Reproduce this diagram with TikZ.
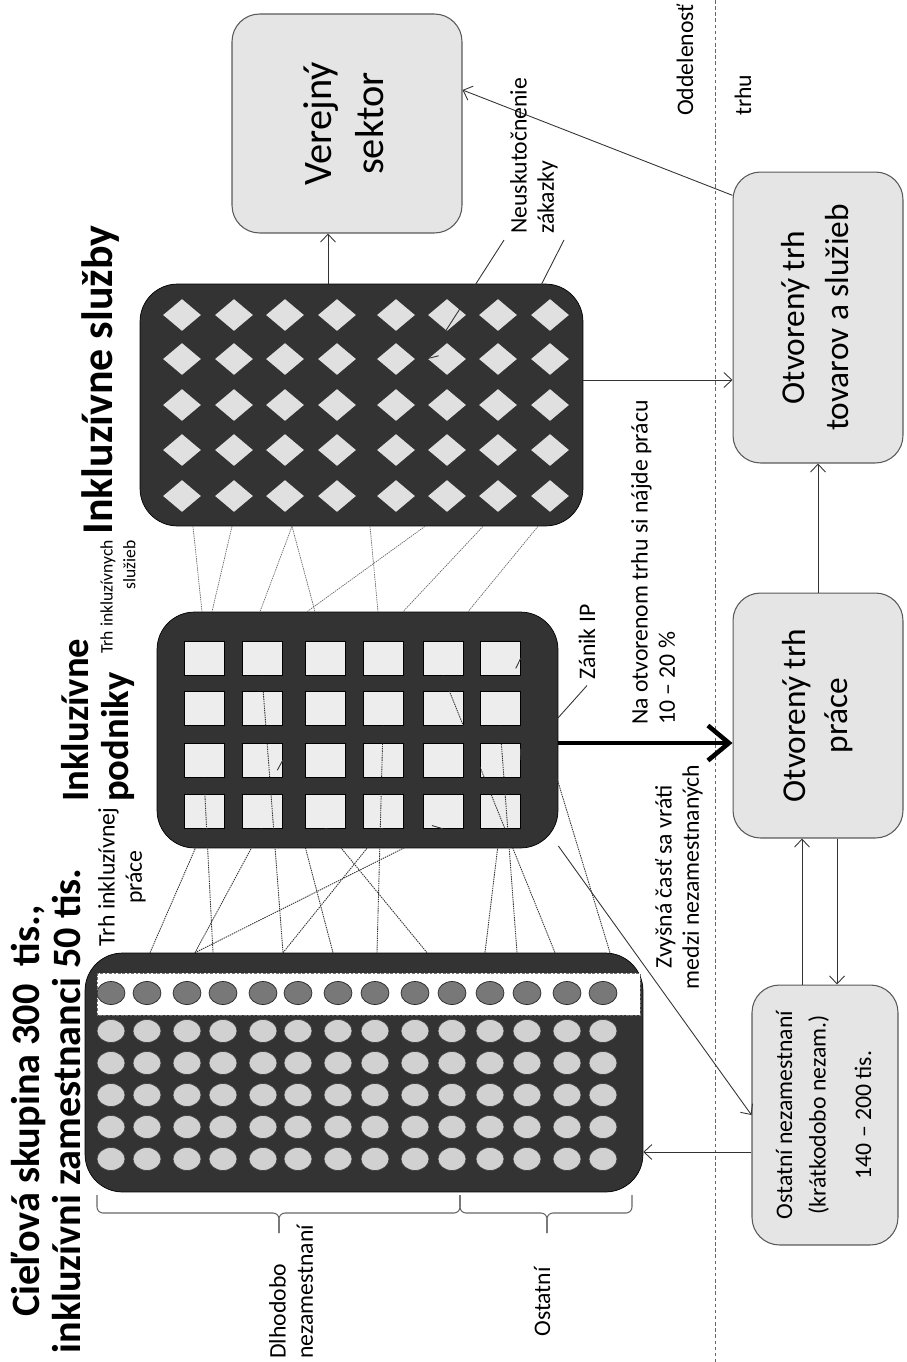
\documentclass[tikz,border=0pt]{standalone}
\usepackage{fontspec}
\setmainfont{Carlito}
\usepackage{graphicx}
\usetikzlibrary{calc,arrows.meta,shapes.geometric}
\def\vtext#1{\rotatebox{90}{\begin{tabular}{@{}c@{}}#1\end{tabular}}}

\tikzset{
  panel/.style={fill=black!80, draw=black, rounded corners=0.75cm, inner sep=0pt},
  market/.style={fill=black!10, draw=black!65, line width=0.6pt, rounded corners=0.55cm, inner sep=0pt},
  sq/.style={rectangle, fill=black!7, draw=black, minimum width=0.8cm, minimum height=0.68cm, inner sep=0pt},
  gem/.style={diamond, fill=black!12, minimum width=0.76cm, minimum height=0.64cm, inner sep=0pt},
  worker/.style={fill=black!18, draw=black!75, line width=0.4pt},
  picked/.style={fill=black!53, draw=black!85, line width=0.4pt},
  strip/.style={fill=white, draw=black!55, line width=0.5pt, dash pattern=on 1.5pt off 1pt},
  net/.style={draw=black!60, line width=0.4pt, dash pattern=on 0.8pt off 0.5pt},
  arr/.style={draw=black!80, line width=0.5pt, -{Straight Barb[length=0.16cm,width=0.3cm]}},
  bigarr/.style={line width=2.6pt, -{Straight Barb[length=0.42cm,width=0.7cm]}},
  sepline/.style={draw=black!60, line width=0.5pt, dash pattern=on 2pt off 1.5pt},
  brace/.style={draw=black!60, line width=0.6pt, rounded corners=0.12cm},
  lbl/.style={rotate=90, font=\fontsize{13.5}{15.5}\selectfont},
  head/.style={rotate=90, font=\bfseries\fontsize{22}{23}\selectfont}
}

\begin{document}
\begin{tikzpicture}[x=0.02cm, y=-0.02cm]
	%%%%% START %%%%%
	\useasboundingbox (0,0) rectangle (906,1362);
	
	\draw[sepline] (715,0) -- (715,1362);
	
	% the three dark blocks
	\node[panel, minimum width=11.16cm, minimum height=4.78cm] (ciel) at (364,1072.5) {};
	\node[panel, minimum width=8.02cm, minimum height=4.72cm] (podniky) at (357.5,730) {};
	\node[panel, minimum width=8.86cm, minimum height=4.84cm] (sluzby) at (361.5,405) {};
	
	\draw[strip] (97,973) rectangle (640,1015);
	\foreach \x in {111,147,187,223,263,298,338,375,415,452,490,527,567,603} {
		\draw[picked] (\x,993) ellipse (0.28cm and 0.23cm);
		\foreach \y in {1031,1063,1095,1127,1159}
			\draw[worker] (\x,\y) ellipse (0.28cm and 0.23cm);
	}
	
	\foreach \x [count=\c] in {204,262,325,383,443,500}
		\foreach \y [count=\r] in {658,708,760,811}
			\node[sq] (s-\c-\r) at (\x,\y) {};
	
	\foreach \x [count=\c] in {182,234,285,337,396,447,498,550}
		\foreach \y [count=\r] in {315,359,405,450,496}
			\node[gem] (d-\c-\r) at (\x,\y) {};
	
	% markets
	\node[market, minimum width=4.6cm, minimum height=4.38cm, font=\fontsize{23}{30}\selectfont] (verejny) at (347,123.5) {\vtext{Verejný\\sektor}};
	\node[market, minimum width=3.4cm, minimum height=5.82cm, font=\fontsize{19}{25}\selectfont] (tovar) at (818,317.5) {\vtext{Otvorený trh\\tovarov a služieb}};
	\node[market, minimum width=3.4cm, minimum height=4.9cm, font=\fontsize{19}{24}\selectfont] (prace) at (818,715.5) {\vtext{Otvorený trh\\práce}};
	\node[market, minimum width=2.92cm, minimum height=5.2cm, font=\fontsize{13.5}{19}\selectfont] (ostatni) at (825,1115) {\vtext{Ostatní nezamestnaní\\(krátkodobo nezam.)\\[7pt]140 – 200 tis.}};
	
	% dotted market links
	\foreach \bx/\tgt in {150/s-1-4.south, 213/s-1-3.south, 195/s-2-4.south, 195/s-5-4.south, 283/s-2-1.south, 283/s-4-4.south, 333/s-2-3.east, 427/s-3-4.south, 377/s-4-2.south, 485/s-6-4.south, 517/s-6-2.south, 555/s-5-1.south, 610/s-6-1.east}
		\draw[net, arr] ($(ciel.north)+({\bx-364},0)$) -- (\tgt);
	\foreach \ux/\lx in {193/202, 232/212, 292/260, 292/315, 370/378, 425/307, 483/403, 538/468}
		\draw[net] ($(sluzby.south)+({\ux-361.5},0)$) -- ($(podniky.north)+({\lx-357.5},0)$);
	
	% flows
	\coordinate (xv) at (328,0);
	\coordinate (yv) at (0,90);
	\coordinate (yt) at (0,380);
	\coordinate (yp) at (0,743);
	\coordinate (xu) at (802,0);
	\coordinate (xd) at (837,0);
	\coordinate (yo) at (0,1152);
	\draw[arr] (sluzby.north -| xv) -- (verejny.south -| xv);
	\draw[arr] (tovar.125) -- (verejny.east |- yv);
	\draw[arr] (sluzby.east |- yt) -- (tovar.west |- yt);
	\draw[arr] (prace.north) -- (tovar.south);
	\draw[bigarr] (podniky.east |- yp) -- (prace.west |- yp);
	\draw[arr] (ostatni.north -| xu) -- (prace.south -| xu);
	\draw[arr] (prace.south -| xd) -- (ostatni.north -| xd);
	\draw[arr] (ostatni.west |- yo) -- (ciel.east |- yo);
	\draw[arr] (podniky.-30) -- (ostatni.west);
	
	% braces
	\draw[brace] (97,1195) -- (97,1213) -- (279,1213) -- (279,1233);
	\draw[brace] (279,1233) -- (279,1213) -- (460,1213) -- (460,1195);
	\draw[brace] (460,1195) -- (460,1213) -- (547,1213) -- (547,1233);
	\draw[brace] (547,1233) -- (547,1213) -- (632,1213) -- (632,1195);
	
	% texts
	\node[head, align=center, font=\bfseries\fontsize{22.9}{23}\selectfont] (title) at (46,1111) {Cieľová skupina 300 \ tis.,\\inkluzívni zamestnanci 50 tis.};
	\node[head, font=\bfseries\fontsize{25}{26}\selectfont] (hsluzby) at (101,380) {Inkluzívne služby};
	\node[head, align=left, anchor=west] (hpodniky) at (98,808) {Inkluzívne\\podniky};
	\node[lbl, align=center] (trhprace) at (122,877) {Trh inkluzívnej\\práce};
	\node[lbl, align=right, anchor=east, font=\fontsize{10}{13}\selectfont] (trhsluzieb) at (118,534) {Trh inkluzívnych\\služieb};
	\node[lbl, align=left, anchor=west] (neusk) at (534,240) {Neuskutočnenie\\zákazky};
	\draw[arr] (neusk.north west) -- (d-6-2.west);
	\draw[arr] (neusk.south west) -- (d-7-2.north east);
	\node[lbl] (zanik) at (587,642) {Zánik IP};
	\draw[arr] (zanik.west) -- (s-6-3.east);
	\node[lbl, align=left, anchor=west] (naotv) at (653,731) {Na otvorenom trhu si nájde prácu\\10 – 20 \%};
	\node[lbl, align=center] (zvysna) at (679,877) {Zvyšná časť sa vráti\\medzi nezamestnaných};
	\node[lbl, anchor=west] (odd) at (685,122) {Oddelenosť};
	\node[lbl, anchor=west] (trhu) at (743,122) {trhu};
	\node[lbl, align=left, anchor=west] (dlho) at (291,1365) {Dlhodobo\\nezamestnaní};
	\node[lbl] (ost) at (542,1302) {Ostatní};
	
	%%%%% END %%%%%
\end{tikzpicture}
\end{document}
